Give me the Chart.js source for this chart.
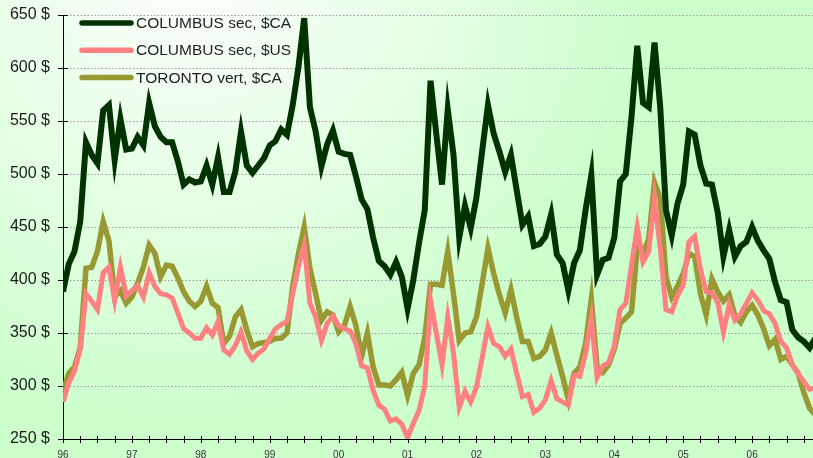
<!DOCTYPE html>
<html>
<head>
<meta charset="utf-8">
<script src="https://cdn.jsdelivr.net/npm/chart.js@4.4.0/dist/chart.umd.min.js"></script>
<style>
html, body { margin: 0; padding: 0; }
body {
    width: 813px; height: 458px; overflow: hidden;
    background: radial-gradient(circle 470px at 190px -40px, #ffffff 0%, #ccffcc 100%);
}
#wrap { position: relative; width: 813px; height: 458px; }
</style>
</head>
<body>
<div id="wrap"><canvas id="priceChart" width="813" height="458"></canvas></div>
<script>
// monthly prices, Jan 1996 .. Dec 2006
var yearLabels = ['96', '97', '98', '99', '00', '01', '02', '03', '04', '05', '06'];
var seriesNames = ['COLUMBUS sec, $CA', 'COLUMBUS sec, $US', 'TORONTO vert, $CA'];

var columbusCA = [
    389, 415, 427, 455, 530, 518, 510, 560, 565, 513, 552, 523,
    524, 535, 527, 567, 545, 535, 530, 530, 512, 490, 495, 492,
    493, 508, 490, 516, 483, 483, 502, 540, 508, 501, 508, 515,
    527, 531, 542, 537, 565, 601, 647, 563, 540, 507, 528, 541,
    521, 519, 518, 498, 476, 467, 440, 418, 413, 405, 417, 403,
    373, 400, 435, 466, 588, 538, 490, 561, 518, 440, 470, 449,
    478, 522, 565, 538, 521, 502, 518, 485, 452, 460, 432, 434,
    441, 462, 424, 416, 390, 416, 428, 466, 499, 405, 419, 421,
    440, 493, 500, 554, 621, 567, 563, 624, 563, 466, 442, 472,
    490, 540, 537, 508, 491, 490, 464, 422, 447, 422, 432, 436,
    450, 437, 428, 420, 398, 381, 379, 353, 346, 342, 336, 345
];
var columbusUS = [
    285, 303, 314, 335, 387, 380, 372, 407, 412, 381, 412, 385,
    390, 395, 384, 407, 394, 387, 386, 383, 369, 354, 350, 345,
    345, 355, 348, 361, 334, 330, 338, 351, 333, 325, 331, 335,
    345, 354, 358, 361, 387, 413, 433, 378, 365, 343, 359, 366,
    357, 354, 352, 340, 319, 317, 296, 282, 278, 267, 269, 264,
    251, 265, 277, 300, 381, 350, 320, 365, 331, 280, 295, 285,
    299, 327, 356, 340, 337, 328, 335, 312, 290, 292, 275, 279,
    287, 305, 288, 285, 282, 310, 309, 331, 364, 308, 319, 322,
    338, 372, 378, 414, 450, 417, 427, 477, 430, 372, 370, 385,
    395, 436, 441, 410, 389, 388, 379, 351, 377, 362, 368, 378,
    388, 381, 371, 368, 359, 342, 336, 320, 312, 304, 297, 298
];
var torontoCA = [
    295, 312, 318, 336, 411, 412, 427, 455, 437, 384, 390, 378,
    384, 397, 412, 433, 425, 403, 414, 413, 402, 389, 380, 375,
    380, 394, 378, 374, 340, 347, 365, 372, 353, 337, 340, 341,
    342, 345, 345, 350, 394, 425, 450, 411, 387, 362, 370, 367,
    351, 357, 375, 357, 328, 350, 318, 301, 301, 300, 306, 313,
    291, 312, 320, 346, 396, 396, 395, 427, 387, 343, 350, 351,
    365, 397, 430, 406, 386, 369, 391, 365, 342, 342, 326, 328,
    334, 350, 329, 309, 287, 312, 318, 340, 382, 318, 313, 320,
    335, 359, 364, 370, 430, 425, 439, 492, 477, 403, 384, 394,
    406, 425, 422, 387, 367, 401, 389, 380, 386, 366, 360, 370,
    376, 367, 354, 338, 344, 325, 328, 320, 312, 294, 279, 273
];

var seriesColors = ['#003300', '#ff8080', '#999933'];
var seriesWidths = [6, 5, 5.5];

function toPoints(values) {
    return values.map(function (v, i) { return { x: i, y: v }; });
}

// axis lines with tick marks crossing them
var axisMarks = {
    id: 'axisMarks',
    beforeDatasetsDraw: function (chart) {
        var ctx = chart.ctx, a = chart.chartArea;
        var xs = chart.scales.x, ys = chart.scales.y;
        ctx.save();
        ctx.strokeStyle = '#000';
        ctx.lineWidth = 1;
        ctx.beginPath();
        ctx.moveTo(a.left + 0.5, a.top);
        ctx.lineTo(a.left + 0.5, a.bottom);
        ctx.moveTo(a.left, a.bottom + 0.5);
        ctx.lineTo(a.right, a.bottom + 0.5);
        ys.ticks.forEach(function (t) {
            var y = Math.round(ys.getPixelForValue(t.value)) + 0.5;
            ctx.moveTo(a.left - 5, y);
            ctx.lineTo(a.left + 5, y);
        });
        xs.ticks.forEach(function (t) {
            var x = Math.round(xs.getPixelForValue(t.value)) + 0.5;
            ctx.moveTo(x, a.bottom - 3);
            ctx.lineTo(x, a.bottom + 4);
        });
        ctx.stroke();
        ctx.restore();
    }
};

var lineLegend = {
    id: 'lineLegend',
    afterDatasetsDraw: function (chart) {
        var ctx = chart.ctx, a = chart.chartArea;
        ctx.save();
        ctx.font = '15.5px "Liberation Sans", Arial, sans-serif';
        ctx.textBaseline = 'middle';
        chart.data.datasets.forEach(function (ds, i) {
            var y = a.top + 8 + i * 27.2;
            ctx.strokeStyle = ds.borderColor;
            ctx.lineWidth = 5.5;
            ctx.lineCap = 'round';
            ctx.beginPath();
            ctx.moveTo(a.left + 19, y);
            ctx.lineTo(a.left + 68, y);
            ctx.stroke();
            ctx.fillStyle = '#222';
            ctx.fillText(ds.label, a.left + 73, y + 1);
        });
        ctx.restore();
    }
};

var datasets = [columbusCA, columbusUS, torontoCA].map(function (values, i) {
    return {
        label: seriesNames[i],
        data: toPoints(values),
        borderColor: seriesColors[i],
        backgroundColor: seriesColors[i],
        borderWidth: seriesWidths[i],
        pointRadius: 0,
        tension: 0,
        fill: false
    };
});

var ctx = document.getElementById('priceChart').getContext('2d');
window.priceChart = new Chart(ctx, {
    type: 'line',
    data: { datasets: datasets },
    plugins: [axisMarks, lineLegend],
    options: {
        responsive: false,
        animation: false,
        layout: { padding: { top: 15, right: 0, left: 0, bottom: 0 } },
        plugins: {
            legend: { display: false },
            tooltip: { enabled: false }
        },
        scales: {
            x: {
                type: 'linear',
                min: 0,
                max: 130.6,
                afterFit: function (scale) {
                    scale.height = 19;
                    scale.paddingLeft = 0;
                    scale.paddingRight = 0;
                },
                grid: { display: false, drawTicks: false },
                border: { display: false },
                ticks: {
                    stepSize: 3,
                    autoSkip: false,
                    maxRotation: 0,
                    includeBounds: false,
                    padding: 10,
                    color: '#333',
                    font: { family: '"Liberation Sans", Arial, sans-serif', size: 10 },
                    callback: function (value) {
                        if (value % 12 === 0) return yearLabels[value / 12];
                        return '';
                    }
                }
            },
            y: {
                min: 250,
                max: 650,
                afterFit: function (scale) {
                    scale.width = 63;
                    scale.paddingTop = 0;
                    scale.paddingBottom = 0;
                },
                grid: {
                    color: function (c) { return c.tick.value === 250 ? 'rgba(0,0,0,0)' : '#9a9a9a'; },
                    drawTicks: false,
                    lineWidth: 1
                },
                border: { display: false, dash: [1.5, 2] },
                ticks: {
                    stepSize: 50,
                    padding: 13,
                    color: '#1a1a1a',
                    font: { family: '"Liberation Sans", Arial, sans-serif', size: 16 },
                    callback: function (value) { return value + ' $'; }
                }
            }
        }
    }
});
</script>
</body>
</html>
